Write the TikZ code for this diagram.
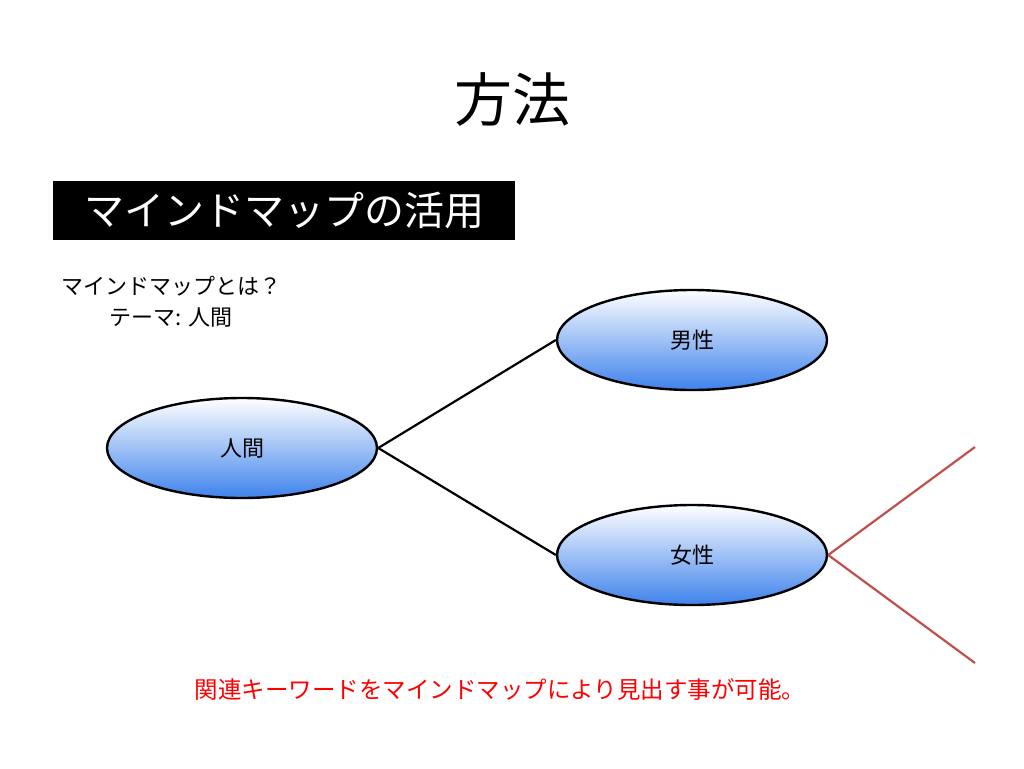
\documentclass[tikz,border=0pt]{standalone}
\usepackage{fontspec}
\setmainfont{Noto Sans CJK JP}
\usetikzlibrary{shapes.geometric}
\definecolor{bubbleblue}{RGB}{62,130,236}
\definecolor{branchred}{RGB}{192,80,77}
\begin{document}
\begin{tikzpicture}[x=1pt,y=-1pt,
	bubble/.style={ellipse,draw=black,line width=2.4pt,minimum width=270pt,minimum height=100pt,
		top color=white,bottom color=bubbleblue,font=\fontsize{22}{26}\selectfont},
	link/.style={line width=2.2pt},
	redlink/.style={line width=2.2pt,draw=branchred}]
				\useasboundingbox (0,0) rectangle (1024,768);
				\node (title) at (512,99) {\fontsize{58}{64}\selectfont 方法};
				\node[fill=black,text=white,minimum width=462pt,minimum height=59pt,inner sep=0pt,font=\fontsize{40}{44}\selectfont] (sub) at (284,210.5) {マインドマップの活用};
				\node[align=center,font=\fontsize{22}{31}\selectfont] (intro) at (171,302) {マインドマップとは？\\テーマ: 人間};
				\node[bubble] (human) at (242,448) {人間};
				\node[bubble] (male) at (692,340) {男性};
				\node[bubble] (female) at (692,555) {女性};
				\coordinate (up) at (975,447);
				\coordinate (down) at (975,663);
				\draw[link] (human.east)--(male.west);
				\draw[link] (human.east)--(female.west);
				\draw[redlink] (female.east)--(up);
				\draw[redlink] (female.east)--(down);
				\node[text=red,font=\fontsize{23.5}{27}\selectfont] (note) at (500,690) {関連キーワードをマインドマップにより見出す事が可能。};
			\end{tikzpicture}
\end{document}
